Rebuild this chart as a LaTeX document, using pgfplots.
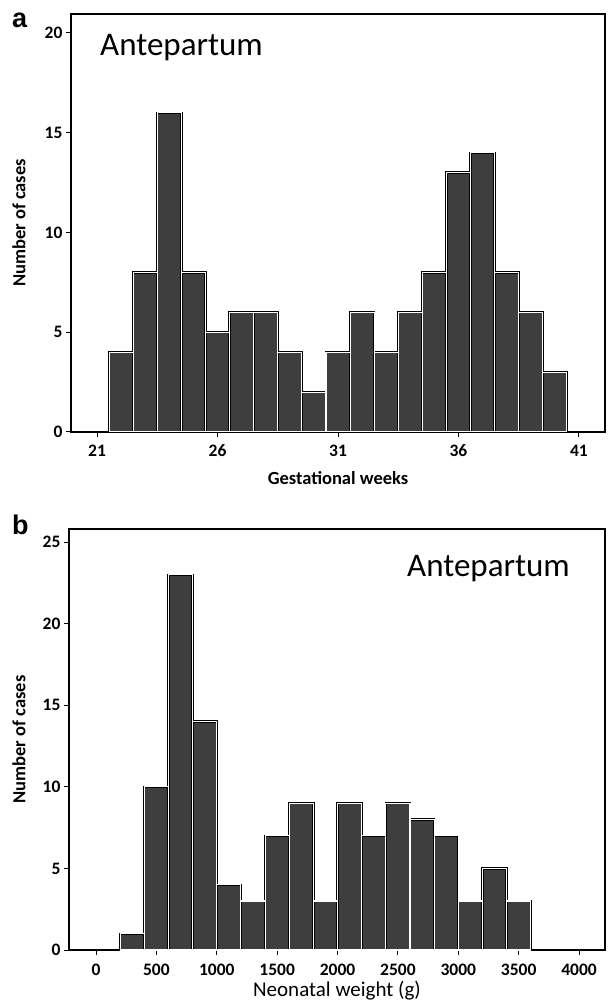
\documentclass[border=0pt]{standalone}
\usepackage{fontspec}
\setmainfont{Carlito}
\newfontfamily\panelfont{Liberation Sans}
\usepackage{pgfplots}
\pgfplotsset{compat=1.18}
\definecolor{barfill}{HTML}{3E3E3E}
\begin{document}
\begin{tikzpicture}
\useasboundingbox (0pt,0pt) rectangle (608pt,1008pt);
\pgfplotsset{
  histstyle/.style={
    scale only axis,
    enlargelimits=false,
    axis line style={line width=1.1pt},
    tick style={line width=1pt, black},
    major tick length=5pt,
    tick align=outside,
    xtick pos=left, ytick pos=left,
    ymin=0,
    /pgf/number format/assume math mode=true,
    /pgf/number format/1000 sep={},
    ticklabel style={font=\fontsize{17.5}{20}\selectfont\bfseries},
    xticklabel style={anchor=base, yshift=-20pt},
    ylabel style={font=\fontsize{18.5}{21}\selectfont\bfseries, anchor=center},
  },
  barstyle/.style={ybar, bar shift=0pt, fill=barfill, draw=black, line width=0.6pt, double=white, double distance=1.1pt}
}
% panel a
\begin{axis}[histstyle,
  at={(71pt,576pt)}, anchor=south west,
  width=534pt, height=418pt,
  xmin=19.92, xmax=42.08, ymax=20.95,
  xtick={21,26,31,36,41}, ytick={0,5,10,15,20},
  xlabel={Gestational weeks},
  xlabel style={font=\fontsize{18.5}{21}\selectfont\bfseries, anchor=base, at={(axis description cs:0.5,-0.1268)}},
  ylabel={Number of cases},
  ylabel style={at={(axis description cs:-0.0975,0.5)}},
]
\addplot[barstyle, bar width=1] coordinates {
(22,4) (23,8) (24,16) (25,8) (26,5) (27,6) (28,6) (29,4) (30,2) (31,4)
(32,6) (33,4) (34,6) (35,8) (36,13) (37,14) (38,8) (39,6) (40,3)};
\node[anchor=base west, inner sep=0pt, font=\fontsize{33}{36}\selectfont] at (rel axis cs:0.0543,0.8995) {Antepartum};
\end{axis}
% panel b
\begin{axis}[histstyle,
  at={(69pt,58pt)}, anchor=south west,
  width=536pt, height=421pt,
  xmin=-224, xmax=4215, ymax=25.8,
  xtick={0,500,...,4000}, ytick={0,5,10,15,20,25},
  xlabel={Neonatal weight (g)},
  xlabel style={font=\fontsize{21}{24}\selectfont, anchor=base, at={(axis description cs:0.5,-0.1116)}},
  ylabel={Number of cases},
  ylabel style={at={(axis description cs:-0.0933,0.5)}},
]
\addplot[barstyle, bar width=200] coordinates {
(300,1) (500,10) (700,23) (900,14) (1100,4) (1300,3) (1500,7) (1700,9) (1900,3)
(2100,9) (2300,7) (2500,9) (2700,8) (2900,7) (3100,3) (3300,5) (3500,3)};
\node[anchor=base west, inner sep=0pt, font=\fontsize{33}{36}\selectfont] at (rel axis cs:0.6306,0.888) {Antepartum};
\end{axis}
\node[anchor=base west, inner sep=0pt, font=\panelfont\bfseries\fontsize{27}{30}\selectfont] at (12pt,980pt) {a};
\node[anchor=base west, inner sep=0pt, font=\panelfont\bfseries\fontsize{27}{30}\selectfont] at (12pt,473pt) {b};
\end{tikzpicture}
\end{document}
